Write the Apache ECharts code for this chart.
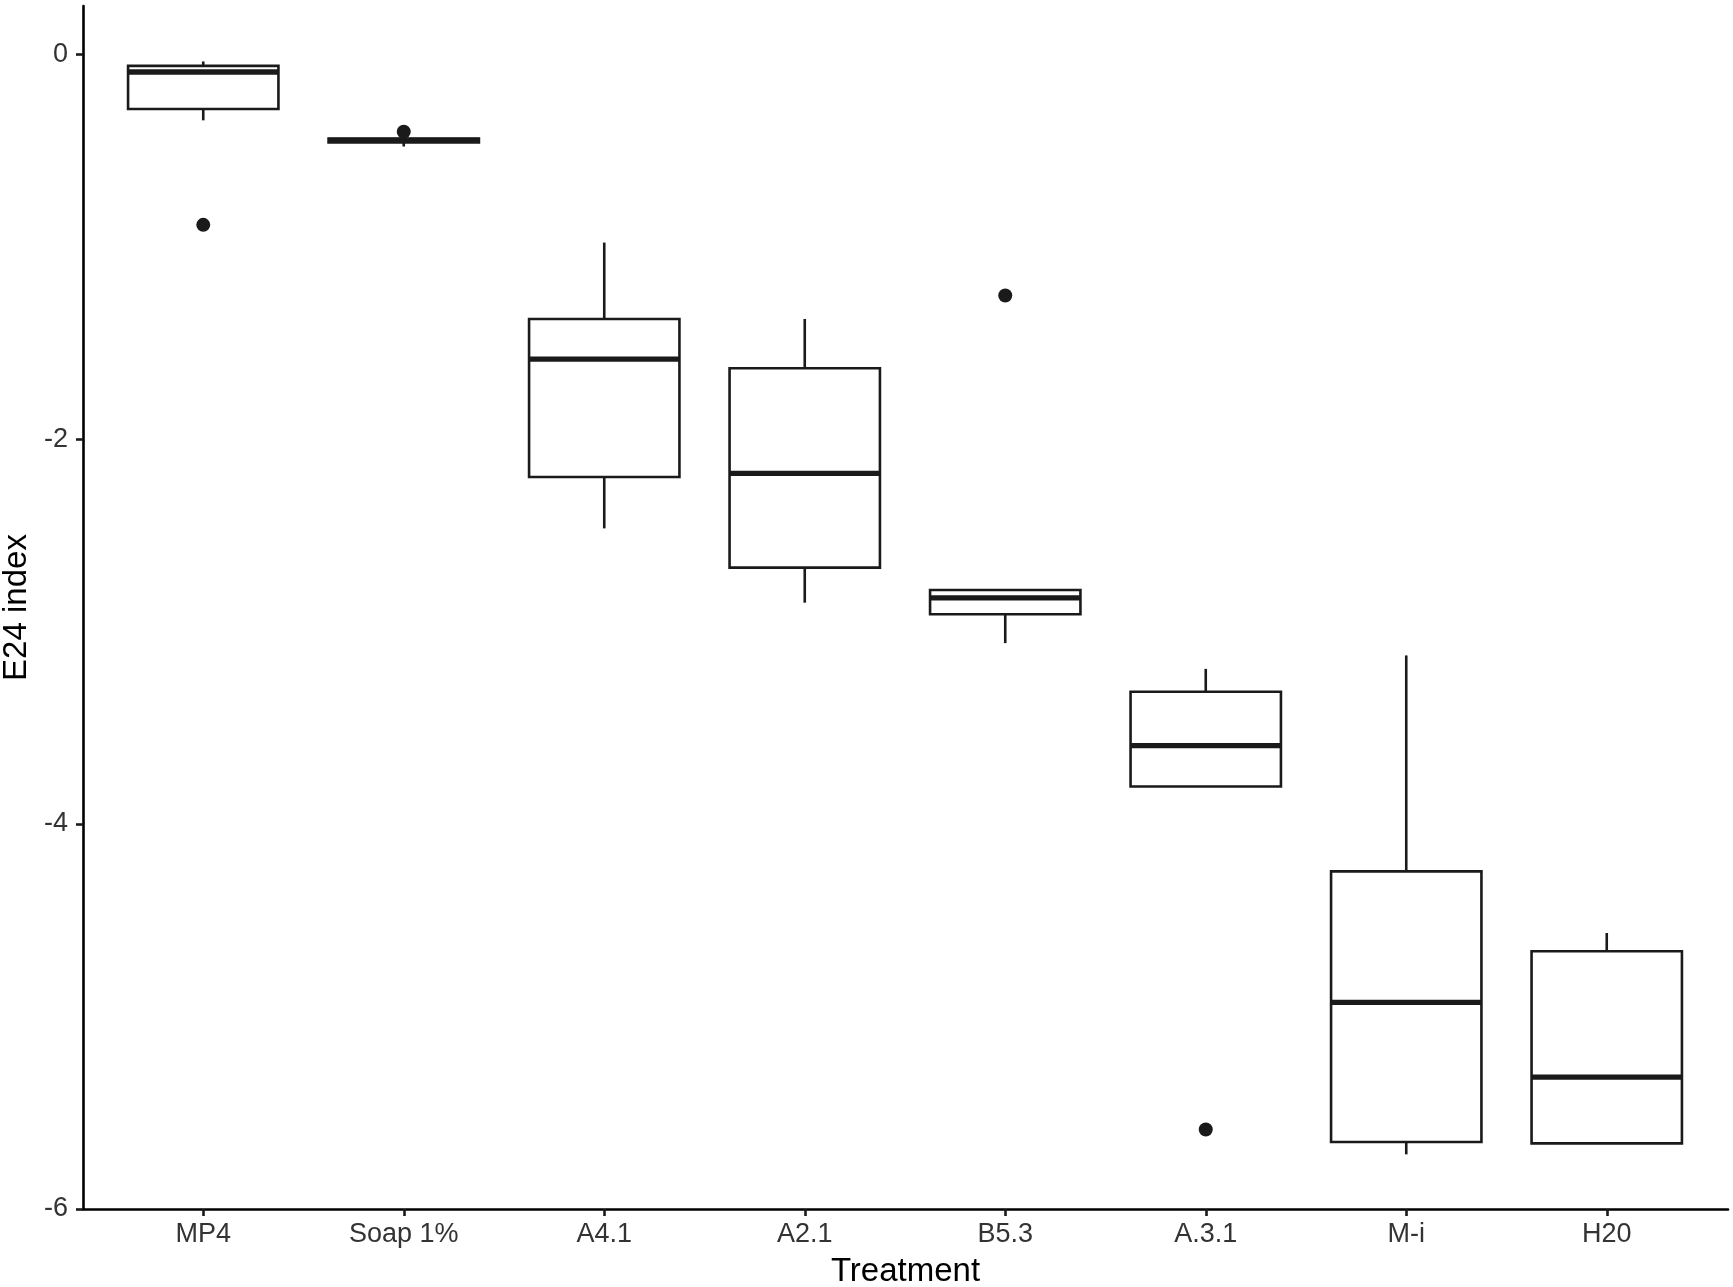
<!DOCTYPE html>
<html>
<head>
<meta charset="utf-8">
<title>E24 index by treatment</title>
<script src="https://cdn.jsdelivr.net/npm/echarts@6.0.0/dist/echarts.min.js"></script>
<style>
  html, body { margin: 0; padding: 0; background: #fff; }
  #main { width: 1733px; height: 1287px; }
</style>
</head>
<body>
<div id="main"></div>
<script>
// data
const categories = ['MP4', 'Soap 1%', 'A4.1', 'A2.1', 'B5.3', 'A.3.1', 'M-i', 'H20'];
const whiskerLow  = [-0.344, -0.480, -2.464, -2.850, -3.060, -3.805, -5.716, -5.659];
const q1          = [-0.285, -0.459, -2.197, -2.668, -2.910, -3.805, -5.652, -5.659];
const median      = [-0.093, -0.448, -1.585, -2.178, -2.825, -3.593, -4.926, -5.315];
const q3          = [-0.061, -0.438, -1.376, -1.632, -2.784, -3.313, -4.246, -4.661];
const whiskerHigh = [-0.038, -0.430, -0.979, -1.376, -2.784, -3.194, -3.124, -4.566];

const outlierCats   = ['MP4', 'Soap 1%', 'B5.3', 'A.3.1'];
const outlierValues = [-0.887, -0.403, -1.254, -5.587];

const yTicks = [-6, -4, -2, 0];

const font = "'Liberation Sans', Arial, sans-serif";
const ink = '#1a1a1a';

// rows for the custom box series: [index, low, q1, median, q3, high]
const boxRows = categories.map((c, i) => [i, whiskerLow[i], q1[i], median[i], q3[i], whiskerHigh[i]]);

function renderBox(params, api) {
  const x = api.value(0);
  const lo = api.coord([x, api.value(1)]);
  const b1 = api.coord([x, api.value(2)]);
  const md = api.coord([x, api.value(3)]);
  const b3 = api.coord([x, api.value(4)]);
  const hi = api.coord([x, api.value(5)]);
  const half = api.size([1, 0])[0] * 0.375; // ggplot width 0.75
  const lw = 2.6;
  const kids = [];
  if (lo[1] - b1[1] > 0.5) {
    kids.push({ type: 'line', shape: { x1: lo[0], y1: lo[1], x2: b1[0], y2: b1[1] }, style: { stroke: ink, lineWidth: lw } });
  }
  if (b3[1] - hi[1] > 0.5) {
    kids.push({ type: 'line', shape: { x1: b3[0], y1: b3[1], x2: hi[0], y2: hi[1] }, style: { stroke: ink, lineWidth: lw } });
  }
  kids.push({
    type: 'rect',
    shape: { x: b3[0] - half, y: b3[1], width: half * 2, height: b1[1] - b3[1] },
    style: { fill: '#fff', stroke: ink, lineWidth: lw }
  });
  kids.push({ type: 'line', shape: { x1: md[0] - half, y1: md[1], x2: md[0] + half, y2: md[1] }, style: { stroke: ink, lineWidth: 5.3 } });
  return { type: 'group', children: kids };
}

const chart = echarts.init(document.getElementById('main'));

chart.setOption({
  animation: false,
  backgroundColor: '#fff',
  textStyle: { fontFamily: font },
  grid: [
    // boxes: bands placed so category centres match the reference
    { left: 103, right: 26, top: 6, bottom: 78, outerBoundsMode: 'none' },
    // axis lines (ggplot expands the discrete axis by 0.6 on each side)
    { left: 83, right: 5, top: 6, bottom: 78, outerBoundsMode: 'none' }
  ],
  xAxis: [
    {
      type: 'category',
      gridIndex: 0,
      data: categories,
      boundaryGap: true,
      axisLine: { show: false, onZero: false },
      axisTick: { show: true, alignWithLabel: true, length: 7, lineStyle: { color: ink, width: 2.6 } },
      axisLabel: { fontSize: 27, color: '#333', margin: 12, fontFamily: font },
      splitLine: { show: false }
    },
    {
      type: 'value',
      gridIndex: 1,
      min: 0,
      max: 1,
      axisLine: { show: true, onZero: false, lineStyle: { color: '#000', width: 2.6 } },
      axisTick: { show: false },
      axisLabel: { show: false },
      splitLine: { show: false },
      name: 'Treatment',
      nameLocation: 'middle',
      nameGap: 46,
      nameTextStyle: { fontSize: 33, color: '#000', fontFamily: font }
    }
  ],
  yAxis: [
    {
      type: 'value',
      gridIndex: 0,
      min: -6,
      max: 0.25,
      show: false
    },
    {
      type: 'value',
      gridIndex: 1,
      min: -6,
      max: 0.25,
      interval: 2,
      axisLine: { show: true, onZero: false, lineStyle: { color: '#000', width: 2.6 } },
      axisTick: { show: true, length: 7, customValues: yTicks, lineStyle: { color: ink, width: 2.6 } },
      axisLabel: { fontSize: 27, color: '#333', margin: 15, customValues: yTicks, fontFamily: font },
      splitLine: { show: false },
      name: 'E24 index',
      nameLocation: 'middle',
      nameGap: 44,
      nameTextStyle: { fontSize: 33, color: '#000', fontFamily: font }
    }
  ],
  series: [
    {
      type: 'custom',
      xAxisIndex: 0,
      yAxisIndex: 0,
      renderItem: renderBox,
      encode: { x: 0, y: [1, 2, 3, 4, 5] },
      data: boxRows,
      z: 2
    },
    {
      type: 'scatter',
      xAxisIndex: 0,
      yAxisIndex: 0,
      symbol: 'circle',
      symbolSize: 14,
      itemStyle: { color: ink, opacity: 1 },
      data: outlierCats.map((c, i) => [c, outlierValues[i]]),
      z: 3
    }
  ]
});
</script>
</body>
</html>
